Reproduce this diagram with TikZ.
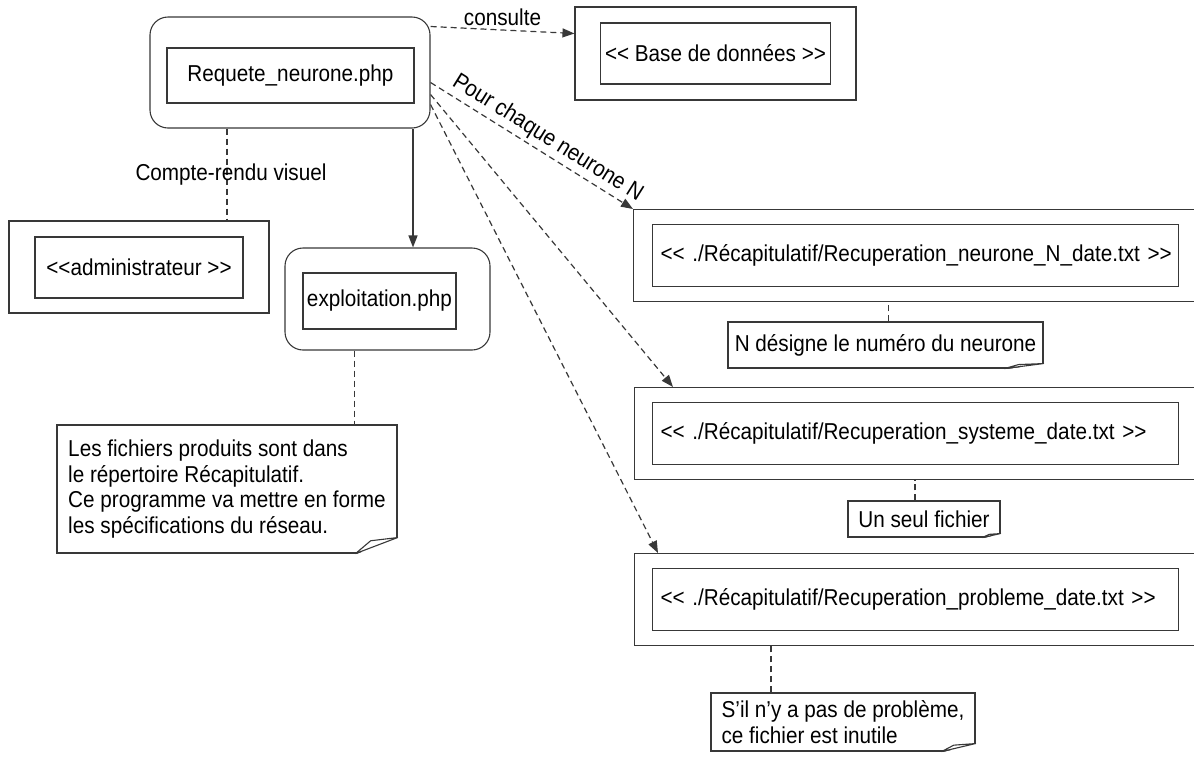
\documentclass[tikz,border=0pt]{standalone}
\usepackage{fontspec}
\setmainfont{Liberation Sans}[FakeStretch=0.9, Ligatures=TeXOff]
\usetikzlibrary{
  positioning,
  arrows.meta,
  calc
}
\definecolor{lineGray}{HTML}{383838}

\newcommand{\umlFont}{\fontsize{23}{25.5}\selectfont}

% folded corner of a note: node, fold width, fold height
\newcommand{\noteFold}[3]{%
  \fill[white] ([xshift=-#2pt,yshift=-1pt]#1.south east)
    -- ([xshift=1pt,yshift=-1pt]#1.south east)
    -- ([xshift=1pt,yshift=#3pt]#1.south east) -- cycle;
  \draw[draw=lineGray, line width=1.1pt, line join=round]
    ([yshift=#3pt]#1.south east)
    -- ([xshift=-0.64*#2pt,yshift=0.8*#3pt]#1.south east)
    -- ([xshift=-#2pt]#1.south east) -- cycle;
}

\tikzset{
  outerBox/.style={
    draw=lineGray, line width=1.1pt, inner sep=0pt
  },
  outerRound/.style={
    outerBox, rounded corners=18pt
  },
  innerBox/.style={
    draw=lineGray, line width=1.1pt, inner sep=0pt,
    font=\umlFont, align=center
  },
  fileBox/.style={
    innerBox, align=left, text width=510pt, inner xsep=8pt,
    minimum height=62pt
  },
  noteBox/.style={
    draw=lineGray, line width=1.1pt, inner sep=0pt,
    font=\umlFont, align=left
  },
  linkLabel/.style={font=\umlFont},
  dashLink/.style={
    draw=lineGray, line width=1.2pt, dash pattern=on 6pt off 4pt
  },
  dashArrow/.style={
    dashLink, -{Triangle[length=12pt,width=9pt]}
  },
  solidArrow/.style={
    draw=lineGray, line width=1.4pt, -{Triangle[length=12pt,width=9pt]}
  }
}

\begin{document}
\begin{tikzpicture}[x=1pt, y=-1pt]
\useasboundingbox (0,0) rectangle (1194,756);

% ── Components ──────────────────────────────────────────────────────
\node[outerRound, minimum width=280pt, minimum height=111pt] (reqOuter) at (290,72.5) {};
\node[innerBox, minimum width=247pt, minimum height=55pt] (reqInner) at (290.5,75.5)
  {Requete\_neurone.php};

\node[outerBox, minimum width=281pt, minimum height=93pt] (dbOuter) at (715.5,53.5) {};
\node[innerBox, minimum width=230pt, minimum height=61pt] (dbInner) at (dbOuter.center)
  {<< Base de données >>};

\node[outerBox, minimum width=260pt, minimum height=92pt] (adminOuter) at (139,267) {};
\node[innerBox, minimum width=208pt, minimum height=61pt] (adminInner) at (139,267.5)
  {<<administrateur >>};

\node[outerRound, minimum width=205pt, minimum height=102pt] (expOuter) at (387.5,299) {};
\node[innerBox, minimum width=153pt, minimum height=56pt] (expInner) at (379.5,301)
  {exploitation.php};

% ── Files ───────────────────────────────────────────────────────────
\node[outerBox, anchor=north west, minimum width=580pt, minimum height=92pt]
  (neurOuter) at (633,209) {};
\node[fileBox, right=19pt of neurOuter.west] (neurInner)
  {\mbox{<< ./Récapitulatif/Recuperation\_neurone\_N\_date.txt >>}};

\node[outerBox, anchor=north west, minimum width=580pt, minimum height=92pt]
  (sysOuter) at (634,387) {};
\node[fileBox, right=18pt of sysOuter.west] (sysInner)
  {\mbox{<< ./Récapitulatif/Recuperation\_systeme\_date.txt >>}};

\node[outerBox, anchor=north west, minimum width=580pt, minimum height=92pt]
  (probOuter) at (634,553) {};
\node[fileBox, right=18pt of probOuter.west] (probInner)
  {\mbox{<< ./Récapitulatif/Recuperation\_probleme\_date.txt >>}};

% ── Notes ───────────────────────────────────────────────────────────
\node[noteBox, minimum width=340pt, minimum height=128pt] (noteExp) at (227,489)
  {Les fichiers produits sont dans\\le répertoire Récapitulatif.\\
   Ce programme va mettre en forme\\les spécifications du réseau.};
\noteFold{noteExp}{42}{16}

\node[noteBox, minimum width=315pt, minimum height=46pt] (noteN) at (885.5,345)
  {N désigne le numéro du neurone};
\noteFold{noteN}{39}{5}

\node[noteBox, minimum width=152pt, minimum height=36pt] (noteU) at (924,519)
  {Un seul fichier};
\noteFold{noteU}{18}{4}

\node[noteBox, minimum width=264pt, minimum height=58pt] (noteS) at (843,722)
  {S’il n’y a pas de problème,\\ce fichier est inutile};
\noteFold{noteS}{34}{8}

% ── Links ───────────────────────────────────────────────────────────
\draw[dashArrow] ([yshift=46pt]reqOuter.east) -- ([yshift=20pt]dbOuter.west)
  node[midway, above, linkLabel] {consulte};

\draw[dashLink] ([xshift=-63pt]reqOuter.south) -- ([xshift=-63pt]reqOuter.south |- adminOuter.north)
  node[midway, xshift=4pt, linkLabel] {Compte-rendu visuel};

\draw[solidArrow] ([xshift=123pt]reqOuter.south) -- ([xshift=123pt]reqOuter.south |- expOuter.north);

\draw[dashLink] ([xshift=-33pt]expOuter.south) -- ([xshift=-33pt]expOuter.south |- noteExp.north);

% Requete -> files
\draw[dashArrow] ([yshift=-10pt]reqOuter.east) -- (neurOuter.north west)
  node[pos=0.54, sloped, above, linkLabel] {Pour chaque neurone N};
\draw[dashArrow] ([yshift=-22pt]reqOuter.east) -- ([xshift=39pt]sysOuter.north west);
\draw[dashArrow] ([yshift=-32pt]reqOuter.east) -- ([xshift=24pt]probOuter.north west);

% files -> notes
\draw[dashLink] ([xshift=3pt]noteN.north) -- ([xshift=3pt]noteN.north |- neurOuter.south);
\draw[dashLink] ([xshift=-9pt]noteU.north) -- ([xshift=-9pt]noteU.north |- sysOuter.south);
\draw[dashLink] ([xshift=-72pt]noteS.north) -- ([xshift=-72pt]noteS.north |- probOuter.south);

\end{tikzpicture}
\end{document}
